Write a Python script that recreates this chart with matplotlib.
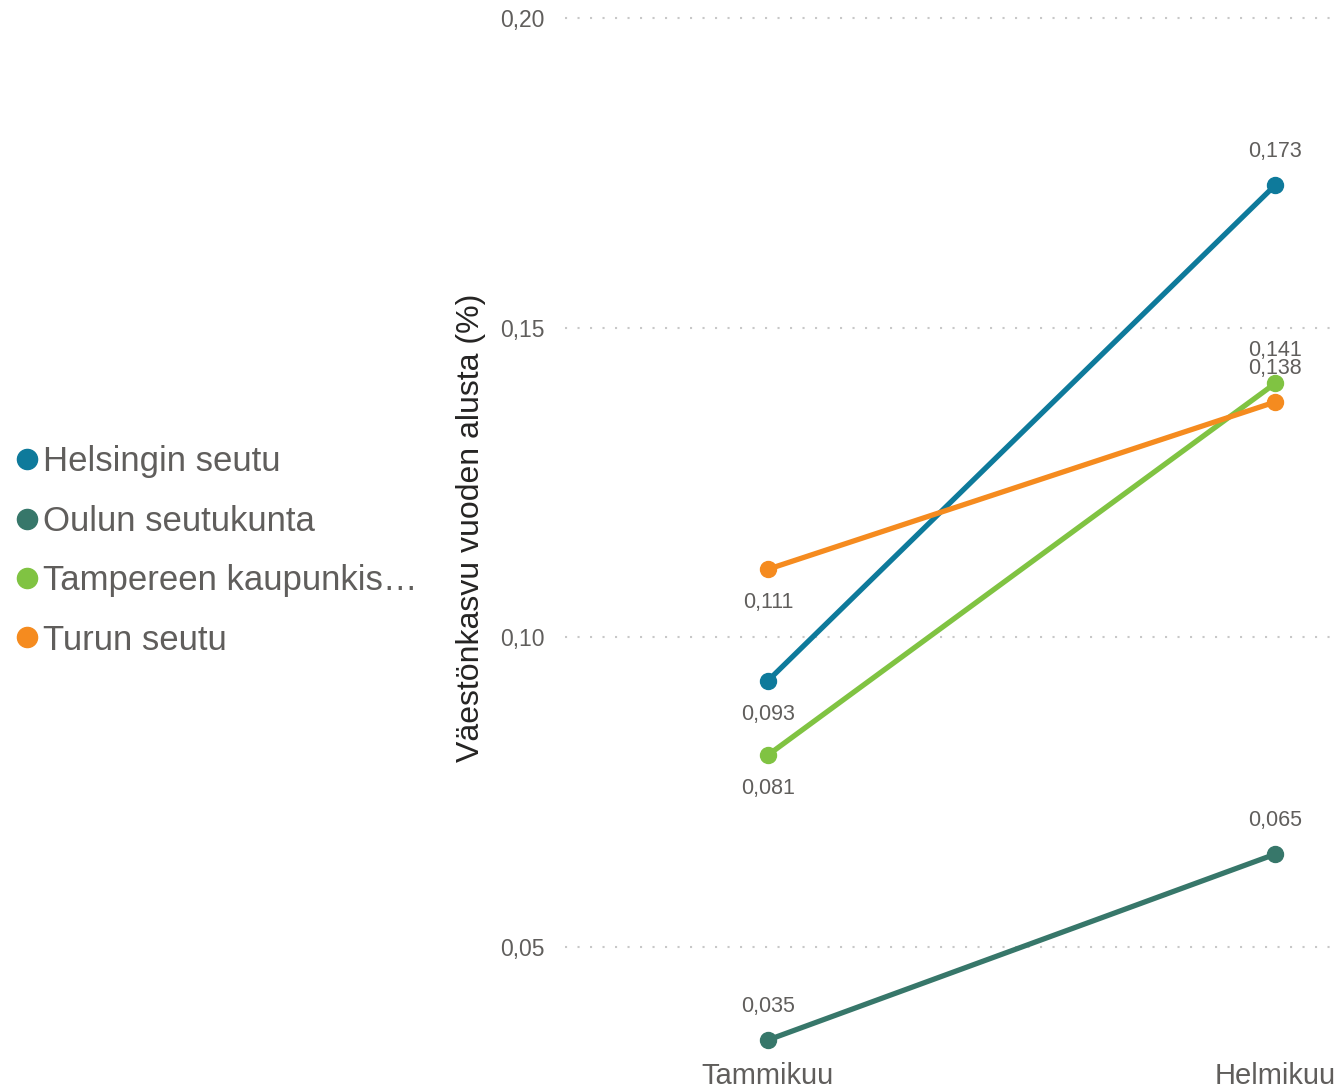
import matplotlib.pyplot as plt
from matplotlib.lines import Line2D

plt.rcParams['font.family'] = ['Liberation Sans', 'DejaVu Sans']

# --- data ---
months = ["Tammikuu", "Helmikuu"]
series_names = ["Helsingin seutu", "Oulun seutukunta", "Tampereen kaupunkis…", "Turun seutu"]
helsinki = [0.093, 0.173]
oulu = [0.035, 0.065]
tampere = [0.081, 0.141]
turku = [0.111, 0.138]
y_ticks = [0.05, 0.10, 0.15, 0.20]

colors = ["#0E7A9B", "#37776A", "#80C342", "#F58B1F"]
series = [helsinki, oulu, tampere, turku]
# label offsets (points) for each series: first month, second month
offsets = [(-24, 24), (24, 24), (-24, 24), (-24, 24)]

fig = plt.figure(figsize=(13.37, 10.88), dpi=100)
ax = fig.add_axes([565 / 1337, 1 - 1055 / 1088, 772 / 1337, 1055 / 1088])

x = [0, 1]
for vals, c, offs in zip(series, colors, offsets):
    ax.plot(x, vals, color=c, linewidth=3.8, marker='o', markersize=11.5,
            solid_capstyle='round', zorder=3)
    for xi, v, dy in zip(x, vals, offs):
        ax.annotate(f"{v:.3f}".replace('.', ','), (xi, v), xytext=(0, dy),
                    textcoords='offset points', ha='center', va='center',
                    fontsize=15.5, color='#605E5C')

ax.set_xlim(-0.4, 1.122)
ax.set_ylim(0.05 - (1055 - 947) / 6200, 0.20 + 18 / 6200)
ax.set_xticks(x)
ax.set_xticklabels(months, fontsize=21, color='#605E5C')
ax.set_yticks(y_ticks)
ax.set_yticklabels([f"{t:.2f}".replace('.', ',') for t in y_ticks],
                   fontsize=16.5, color='#605E5C')
ax.tick_params(axis='y', length=0, pad=15)
ax.tick_params(axis='x', length=0, pad=5)
ax.yaxis.grid(True, color='#C8C8C8', linewidth=1.5, linestyle=(0, (1, 5)))
ax.set_axisbelow(True)
for s in ax.spines.values():
    s.set_visible(False)

ax.set_ylabel("Väestönkasvu vuoden alusta (%)", fontsize=23, color='#252423',
              labelpad=10)

handles = [Line2D([], [], marker='o', linestyle='', color=c, markersize=14.5)
           for c in colors]
leg = fig.legend(handles, series_names, loc='center left',
                 bbox_to_anchor=(16.6 / 1337, 1 - 551 / 1088), frameon=False,
                 fontsize=25, handlelength=0.6, handletextpad=0.16,
                 labelspacing=0.76, borderaxespad=0, borderpad=0)
for t in leg.get_texts():
    t.set_color('#605E5C')

fig.savefig("out.png", dpi=100)
